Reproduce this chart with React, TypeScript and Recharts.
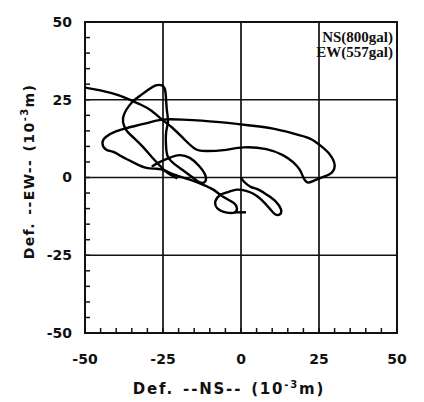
import React from "react";
import {
  LineChart,
  Line,
  XAxis,
  YAxis,
  ReferenceLine,
  ReferenceArea,
  Label,
} from "recharts";

// orbit of the deformation (NS horizontal, EW vertical), units 10^-3 m
const mainNS = [
  -50, -45.1, -39.1, -35.2, -31.9, -28.6, -25.3, -22.0, -17.8, -14.5, -11.2, -5.6, 0.9, 8.1, 13.4,
  16.6, 18.8, 20.0, 21.3, 23.4, 26.6, 29.1, 30.0, 28.4, 25.3, 21.9, 16.6, 10.3, 3.1, -7.9, -18.8,
  -25.3, -30.9, -36.2, -40.1, -43.1, -44.4, -43.4, -40.8, -38.5, -36.2, -33.6, -30.3, -27.0, -24.3,
  -21.4, -16.4, -12.2, -8.9, -5.6, -2.3, -1.3, -2.0, -4.9, -7.6, -8.2, -6.6, -3.9, -1.3, 1.6, 4.1,
  6.6, 9.1, 10.9, 12.5, 12.8, 11.3, 8.8, 5.6, 3.1, 0.9, 0,
];
const mainEW = [
  28.9, 28.0, 26.4, 24.8, 23.3, 21.4, 18.6, 16.0, 11.9, 9.1, 8.5, 8.8, 9.7, 9.1, 7.2,
  5.0, 2.5, 0, -1.6, -1.0, 0.3, 1.6, 4.1, 7.5, 10.4, 12.6, 14.2, 15.7, 16.7, 17.9, 18.6,
  18.6, 17.3, 16.0, 14.8, 13.2, 11.3, 9.1, 8.2, 6.9, 5.7, 4.4, 3.1, 2.8, 2.2,
  0.9, -0.7, -2.3, -3.9, -6.3, -8.2, -9.9, -11.2, -11.2, -9.9, -7.6, -5.6, -4.6, -3.9, -4.3, -5.3,
  -7.2, -9.9, -11.8, -11.8, -10.2, -7.9, -5.9, -3.9, -3.0, -1.3, 0,
];

const loopNS = [
  -20.4, -23.7, -26.0, -28.6, -31.3, -34.2, -36.2, -37.5, -37.8, -36.8, -34.9, -32.2, -29.6, -27.3,
  -25.3, -24.3, -24.0, -23.7, -23.4, -24.0, -24.0, -23.4, -21.4, -18.4, -15.5, -13.2, -11.5, -11.5,
  -13.5, -16.4, -19.7, -23.0, -26.6, -28.6,
];
const loopEW = [
  -0.3, 1.6, 3.8, 6.6, 9.7, 12.6, 14.5, 16.7, 19.2, 21.7, 24.2, 26.4, 28.3, 29.6,
  29.6, 28.0, 24.8, 21.1, 17.9, 14.5, 9.7, 6.6, 4.4, 2.2, 0, -1.6, -1.3, 0.9,
  3.8, 6.3, 7.2, 6.3, 4.7, 3.5,
];

const tailNS = [-2.0, 1.6];
const tailEW = [-11.2, -11.2];

const minorTicks = [
  -50, -45, -40, -35, -30, -25, -20, -15, -10, -5, 0, 5, 10, 15, 20, 25, 30, 35, 40, 45, 50,
];
const gridValues = [-25, 0, 25];
const legendLines = ["NS(800gal)", "EW(557gal)"];

const toPoints = (ns: number[], ew: number[]) => ns.map((x, i) => ({ x, y: ew[i] }));

const mainPath = toPoints(mainNS, mainEW);
const loopPath = toPoints(loopNS, loopEW);
const tailPath = toPoints(tailNS, tailEW);

const axisFont = { fontFamily: "DejaVu Sans", fontWeight: 700, fontSize: 14, fill: "#111" };
const showMajor = (v: number) => (v % 25 === 0 ? String(v) : "");

function XTitle({ viewBox }: any) {
  return (
    <text
      x={viewBox.x + viewBox.width / 2 - 12}
      y={viewBox.y + 61}
      textAnchor="middle"
      {...axisFont}
      fontSize={15}
      letterSpacing={1.8}
      wordSpacing={2}
    >
      Def. --NS-- (10
      <tspan dy={-6} fontSize={10}>-3</tspan>
      <tspan dy={6}>m)</tspan>
    </text>
  );
}

function YTitle({ viewBox }: any) {
  const cx = 26;
  const cy = viewBox.y + viewBox.height / 2 - 6;
  return (
    <text
      x={cx}
      y={cy}
      textAnchor="middle"
      transform={`rotate(-90, ${cx}, ${cy})`}
      {...axisFont}
      letterSpacing={1.4}
      wordSpacing={1}
    >
      Def. --EW-- (10
      <tspan dy={-6} fontSize={10}>-3</tspan>
      <tspan dy={6}>m)</tspan>
    </text>
  );
}

export default function App() {
  return (
    <div style={{ position: "relative", width: 410, height: 392 }}>
      <LineChart width={410} height={392} margin={{ top: 14, right: 21, left: 0, bottom: 0 }}>
        <XAxis
          dataKey="x"
          type="number"
          domain={[-50, 50]}
          allowDataOverflow
          ticks={minorTicks}
          interval={0}
          tickFormatter={showMajor}
          tickSize={-5}
          tickMargin={26}
          height={67}
          axisLine={false}
          tickLine={{ stroke: "#111", strokeWidth: 1.5 }}
          tick={axisFont}
        >
          <Label content={<XTitle />} />
        </XAxis>
        <YAxis
          dataKey="y"
          type="number"
          domain={[-50, 50]}
          allowDataOverflow
          ticks={minorTicks}
          interval={0}
          tickFormatter={showMajor}
          tickSize={-5}
          tickMargin={18}
          width={77}
          axisLine={false}
          tickLine={{ stroke: "#111", strokeWidth: 1.5 }}
          tick={axisFont}
        >
          <Label content={<YTitle />} />
        </YAxis>
        <ReferenceArea x1={-50} x2={50} y1={-50} y2={50} fill="none" stroke="#111" strokeWidth={2} />
        {gridValues.map((v) => (
          <ReferenceLine key={`gx${v}`} x={v} stroke="#111" strokeWidth={1.7} />
        ))}
        {gridValues.map((v) => (
          <ReferenceLine key={`gy${v}`} y={v} stroke="#111" strokeWidth={1.7} />
        ))}
        <Line data={mainPath} dataKey="y" type="natural" stroke="#000" strokeWidth={2.4} dot={false} activeDot={false} isAnimationActive={false} />
        <Line data={loopPath} dataKey="y" type="natural" stroke="#000" strokeWidth={2.4} dot={false} activeDot={false} isAnimationActive={false} />
        <Line data={tailPath} dataKey="y" type="linear" stroke="#000" strokeWidth={2.4} dot={false} activeDot={false} isAnimationActive={false} />
      </LineChart>
      <div
        style={{
          position: "absolute",
          right: 25,
          top: 22,
          textAlign: "right",
          fontFamily: "Liberation Serif",
          fontWeight: 700,
          fontSize: 15,
          lineHeight: "15px",
          color: "#111",
        }}
      >
        {legendLines.map((t) => (
          <div key={t}>{t}</div>
        ))}
      </div>
    </div>
  );
}
